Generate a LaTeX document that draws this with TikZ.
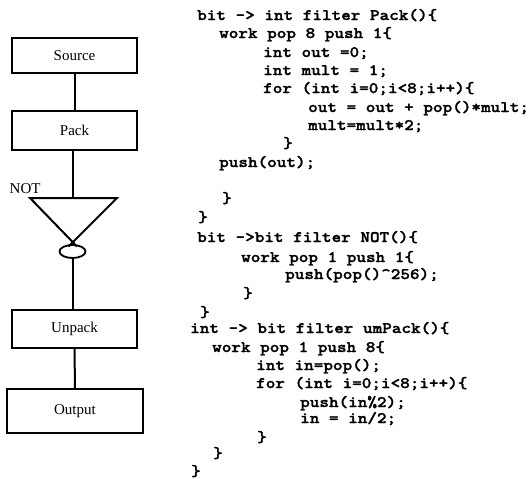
\documentclass[tikz,border=0pt]{standalone}
\usepackage{fontspec}
\setmainfont{Liberation Serif}
% heavy slab-serif mono, widened to Courier proportions
\newfontfamily\codefont{lmmonolt10-bold.otf}[FakeStretch=1.143, FakeBold=1.6]
\usetikzlibrary{shapes.geometric}

\tikzset{
  blockbox/.style={draw, line width=2pt, inner sep=0pt,
    font=\fontsize{15}{17}\selectfont},
  wire/.style={line width=2pt},
  codeline/.style={anchor=base west, inner sep=0pt,
    font=\codefont\fontsize{16}{18}\selectfont},
}

\begin{document}
\begin{tikzpicture}[x=1pt, y=-1pt]
\useasboundingbox (0,0) rectangle (528,479);

% ---- pipeline blocks ----
\node[blockbox, minimum width=125pt, minimum height=35pt] (src) at (74.5,55.5) {Source};
\node[blockbox, minimum width=125pt, minimum height=39pt] (pack) at (74.5,130.5) {Pack};
\node[blockbox, minimum width=125pt, minimum height=38pt] (unpack) at (74.5,329) {Unpack};
\node[blockbox, minimum width=136pt, minimum height=44pt] (out) at (75,411) {Output};

% ---- NOT gate: inverted triangle with bubble ----
\coordinate (tl) at (30,198);
\coordinate (tr) at (117,198);
\coordinate (tt) at (73,198);
\coordinate (ltip) at (77,246.5);
\coordinate (rtip) at (68.5,246.5);
\draw[wire, line join=miter] (ltip) -- (tl) -- (tr) -- (rtip);
\node[draw, line width=1.8pt, ellipse, inner sep=0pt,
      minimum width=26pt, minimum height=13pt] (bubble) at (72.5,251.5) {};
\node[anchor=base west, inner sep=0pt, font=\fontsize{15}{17}\selectfont] (notlbl) at (9.5,193) {NOT};

% ---- connectors ----
\draw[wire] (src.south) -- (pack.north);
\draw[wire] (pack.south -| tt) -- (tt);
\draw[wire] (bubble.south) -- (bubble.south |- unpack.north);
\draw[wire] (unpack.south) -- (out.north);

% ---- StreamIt source ----
\node[codeline] (c1)  at (197,20)  {bit -> int filter Pack()\{};
\node[codeline] (c2)  at (219,38)  {work pop 8 push 1\{};
\node[codeline] (c3)  at (263,57)  {int out =0;};
\node[codeline] (c4)  at (263,75)  {int mult = 1;};
\node[codeline] (c5)  at (263,93)  {for (int i=0;i<8;i++)\{};
\node[codeline] (c6)  at (308,112) {out = out + pop()*mult;};
\node[codeline] (c7)  at (308,130) {mult=mult*2;};
\node[codeline] (c8)  at (283,148) {\}};
\node[codeline] (c9)  at (219,167) {push(out);};
\node[codeline] (c11) at (222,203) {\}};
\node[codeline] (c12) at (198,222) {\}};
\node[codeline] (c13) at (197,242) {bit ->bit filter NOT()\{};
\node[codeline] (c14) at (241,262) {work pop 1 push 1\{};
\node[codeline] (c15) at (285,279) {push(pop()\textasciicircum256);};
\node[codeline] (c16) at (243,298) {\}};
\node[codeline] (c17) at (200,317) {\}};
\node[codeline] (c18) at (190,333) {int -> bit filter umPack()\{};
\node[codeline] (c19) at (212,352) {work pop 1 push 8\{};
\node[codeline] (c20) at (256,370) {int in=pop();};
\node[codeline] (c21) at (256,388) {for (int i=0;i<8;i++)\{};
\node[codeline] (c22) at (300,407) {push(in\%2);};
\node[codeline] (c23) at (300,423) {in = in/2;};
\node[codeline] (c24) at (257,442) {\}};
\node[codeline] (c25) at (213,458) {\}};
\node[codeline] (c26) at (191,476) {\}};
\end{tikzpicture}
\end{document}
